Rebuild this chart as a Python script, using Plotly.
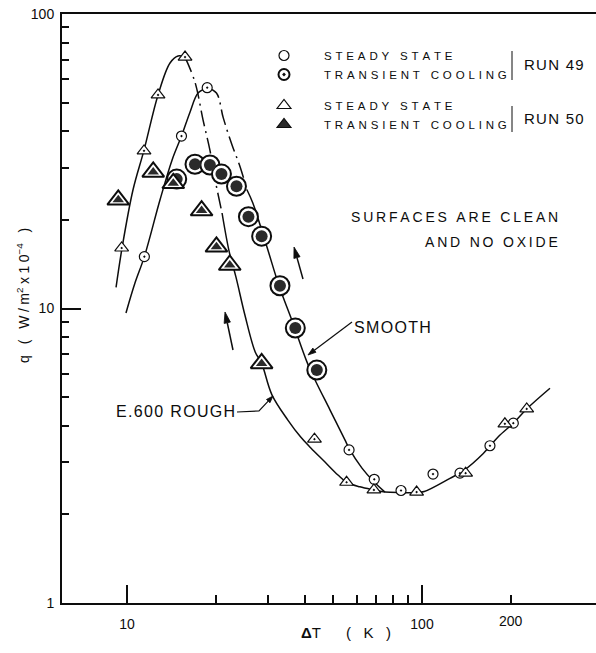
import math
import plotly.graph_objects as go

# ---- measured points: wall superheat dT (K) vs heat flux q (W/m^2 x 1e-4) ----
run49_steady_dt = [11.45, 15.3, 18.7, 56.6, 68.9, 84.9, 109, 134.5, 170, 204]
run49_steady_q = [15.0, 38.5, 56.2, 3.31, 2.63, 2.41, 2.74, 2.76, 3.42, 4.08]

run49_transient_dt = [14.74, 17.0, 19.1, 20.9, 23.5, 25.8, 28.6, 33.0, 37.2, 44.0]
run49_transient_q = [27.5, 30.9, 30.7, 28.6, 26.0, 20.5, 17.6, 11.95, 8.58, 6.18]

run50_steady_dt = [9.59, 11.42, 12.74, 15.73, 43.2, 55.5, 68.7, 95.9, 140.6, 191, 226.5]
run50_steady_q = [16.05, 34.3, 53.1, 71.4, 3.6, 2.57, 2.42, 2.38, 2.76, 4.06, 4.56]

run50_transient_dt = [9.34, 12.27, 14.35, 17.9, 20.1, 22.3, 28.6]
run50_transient_q = [23.4, 29.1, 26.6, 21.5, 16.2, 14.05, 6.51]

# ---- hand-faired boiling curves ----
rough_rise_dt = [9.18, 9.62, 10.48, 11.42, 12.74, 13.99, 14.89, 15.73]
rough_rise_q = [11.8, 16.05, 25.3, 34.5, 53.1, 68.2, 72.0, 71.4]
rough_peak_dt = [15.73, 17.0, 18.1, 19.1, 19.9, 21.0]
rough_peak_q = [71.4, 58.7, 43.7, 34.5, 27.3, 21.1]
rough_fall_dt = [21.0, 22.2, 23.4, 25.1, 27.2, 28.6, 31.0, 35.1, 38.8, 42.0,
                 46.9, 51.9, 55.5, 61.6, 68.7, 74.9]
rough_fall_q = [21.1, 15.6, 12.8, 9.5, 7.12, 6.51, 5.09, 4.18, 3.66, 3.36,
                3.01, 2.72, 2.57, 2.48, 2.42, 2.38]

smooth_rise_dt = [9.92, 10.64, 11.45, 12.94, 14.21, 15.3, 16.35, 17.41, 18.7]
smooth_rise_q = [9.66, 12.2, 15.0, 23.4, 31.9, 38.5, 46.4, 53.9, 56.2]
smooth_peak_dt = [18.7, 20.1, 21.2, 22.7, 24.2, 25.5]
smooth_peak_q = [56.2, 53.9, 44.4, 35.9, 30.2, 25.3]
smooth_fall_dt = [25.5, 26.7, 29.8, 32.8, 36.2, 40.7, 43.4, 48.8, 54.8, 56.6,
                  62.6, 68.7, 74.9]
smooth_fall_q = [25.3, 22.8, 16.2, 11.9, 9.14, 6.60, 5.72, 4.52, 3.58, 3.35,
                 2.87, 2.58, 2.38]

film_dt = [74.9, 85, 96, 101.8, 124.4, 138, 161.4, 181.4, 204, 226.5, 271.6]
film_q = [2.38, 2.37, 2.37, 2.39, 2.65, 2.81, 3.22, 3.67, 4.08, 4.56, 5.36]

# ---- axes ----
x_limits = [6.02, 389]
y_limits = [1, 100]
x_major = [10, 100]
x_major_text = ["10", "100"]
x_minor = [20, 30, 40, 50, 60, 70, 80, 90, 200]
x_extra = [200]
x_extra_text = ["200"]
y_major = [1, 10, 100]
y_major_text = ["1", "10", "100"]
y_minor = [2, 3, 4, 5, 6, 7, 8, 9, 20, 30, 40, 50, 60, 70, 80, 90]

FONT = "Liberation Sans, Arial, Helvetica, sans-serif"
INK = "#0d0d0d"
DARK = "#2a2a2a"
DASHDOT = "16px,5px,2px,5px"

# page geometry of the plotting area
W, H = 596, 653
ML, MR, MT, MB = 62, 0, 14, 50
PW, PH = W - ML - MR, H - MT - MB


def xp(px):
    return (px - ML) / PW


def yp(py):
    return (MT + PH - py) / PH


def tracked(text, gap="\u2009"):
    out = []
    for ch in text:
        out.append("\u00a0" if ch == " " else ch)
    return gap.join(out)


fig = go.Figure()


def curve(dt, q, dash="solid"):
    fig.add_trace(go.Scatter(
        x=dt, y=q, mode="lines", showlegend=False, hoverinfo="skip",
        line=dict(color=INK, width=1.5, dash=dash, shape="spline", smoothing=1.0),
    ))


curve(rough_rise_dt, rough_rise_q)
curve(rough_peak_dt, rough_peak_q, DASHDOT)
curve(rough_fall_dt, rough_fall_q)
curve(smooth_rise_dt, smooth_rise_q)
curve(smooth_peak_dt, smooth_peak_q, DASHDOT)
curve(smooth_fall_dt, smooth_fall_q)
curve(film_dt, film_q)

# steady-state points
fig.add_trace(go.Scatter(
    x=run49_steady_dt, y=run49_steady_q, mode="markers", showlegend=False,
    marker=dict(symbol="circle-dot", size=10, color="white",
                line=dict(color=INK, width=1.2)),
))
fig.add_trace(go.Scatter(
    x=run50_steady_dt, y=run50_steady_q, mode="markers", showlegend=False,
    marker=dict(symbol="triangle-up-dot", size=12, color="white",
                line=dict(color=INK, width=1.2)),
))

# transient-cooling points: ringed outer mark with a dark core
fig.add_trace(go.Scatter(
    x=run49_transient_dt, y=run49_transient_q, mode="markers", showlegend=False,
    marker=dict(symbol="circle", size=19, color="white",
                line=dict(color=INK, width=2)),
))
fig.add_trace(go.Scatter(
    x=run49_transient_dt, y=run49_transient_q, mode="markers", showlegend=False,
    marker=dict(symbol="circle", size=12, color=DARK, line=dict(width=0)),
))
fig.add_trace(go.Scatter(
    x=run50_transient_dt, y=run50_transient_q, mode="markers", showlegend=False,
    marker=dict(symbol="triangle-up", size=19, color="white",
                line=dict(color=INK, width=2)),
))
fig.add_trace(go.Scatter(
    x=run50_transient_dt, y=run50_transient_q, mode="markers", showlegend=False,
    marker=dict(symbol="triangle-up", size=10, color=DARK, line=dict(width=0)),
))

# legend keys
legend_items = [
    ("r49", "STEADY STATE", dict(symbol="circle", size=10, color="white",
                                 line=dict(color=INK, width=1.2))),
    ("r49", "TRANSIENT COOLING", dict(symbol="circle-dot", size=11, color="white",
                                      line=dict(color=INK, width=2))),
    ("r50", "STEADY STATE", dict(symbol="triangle-up", size=12, color="white",
                                 line=dict(color=INK, width=1.2))),
    ("r50", "TRANSIENT COOLING", dict(symbol="triangle-up", size=12, color=DARK,
                                      line=dict(color=INK, width=1.2))),
]
for group, label, mk in legend_items:
    fig.add_trace(go.Scatter(
        x=[None], y=[None], mode="markers", name=tracked(label, "\u2004"),
        legendgroup=group, marker=mk, showlegend=True,
    ))

axis_font = dict(family=FONT, size=14, color=INK)
log_x = [math.log10(v) for v in x_limits]
log_y = [math.log10(v) for v in y_limits]

fig.update_layout(
    width=W, height=H,
    margin=dict(l=ML, r=MR, t=MT, b=MB),
    paper_bgcolor="white", plot_bgcolor="white",
    font=dict(family=FONT, color=INK),
    xaxis=dict(
        type="log", range=log_x, showgrid=False, zeroline=False,
        showline=True, linecolor=INK, linewidth=2, mirror=True,
        tickmode="array", tickvals=x_major, ticktext=x_major_text,
        ticks="inside", ticklen=18, tickwidth=1.5, tickcolor=INK,
        tickfont=axis_font, ticklabelstandoff=7,
        minor=dict(tickmode="array", tickvals=x_minor, ticks="inside",
                   ticklen=8, tickwidth=1.5, tickcolor=INK, showgrid=False),
    ),
    yaxis=dict(
        type="log", range=log_y, showgrid=False, zeroline=False,
        showline=True, linecolor=INK, linewidth=2, mirror=False,
        tickmode="array", tickvals=y_major, ticktext=y_major_text,
        ticks="inside", ticklen=19, tickwidth=1.5, tickcolor=INK,
        tickfont=axis_font, ticklabelstandoff=3,
        minor=dict(tickmode="array", tickvals=y_minor, ticks="inside",
                   ticklen=7, tickwidth=1.5, tickcolor=INK, showgrid=False),
    ),
    legend=dict(
        x=xp(244), y=yp(41), xanchor="left", yanchor="top", itemwidth=70,
        bgcolor="rgba(0,0,0,0)", borderwidth=0, tracegroupgap=12,
        font=dict(family=FONT, size=11.5, color=INK), traceorder="grouped",
    ),
    showlegend=True,
)

ann = []
shapes = []


def note(text, x, y, size, xanchor="left", angle=0):
    ann.append(dict(text=text, xref="paper", yref="paper", x=xp(x), y=yp(y),
                    xanchor=xanchor, yanchor="middle", showarrow=False,
                    textangle=angle, font=dict(family=FONT, size=size, color=INK)))


def arrow(points, head_len=9.0, head_half=3.0, width=1.3):
    """Polyline in page pixels ending in a filled arrow head at its last point."""
    (x1, y1), (x2, y2) = points[-2], points[-1]
    d = math.hypot(x2 - x1, y2 - y1)
    ux, uy = (x2 - x1) / d, (y2 - y1) / d
    bx, by = x2 - ux * head_len, y2 - uy * head_len
    line_pts = points[:-1] + [(bx, by)]
    path = "M" + " L".join(f"{xp(a):.5f},{yp(b):.5f}" for a, b in line_pts)
    shapes.append(dict(type="path", xref="paper", yref="paper", path=path,
                       line=dict(color=INK, width=width)))
    head = [(x2, y2), (bx - uy * head_half, by + ux * head_half),
            (bx + uy * head_half, by - ux * head_half)]
    hpath = "M" + " L".join(f"{xp(a):.5f},{yp(b):.5f}" for a, b in head) + " Z"
    shapes.append(dict(type="path", xref="paper", yref="paper", path=hpath,
                       fillcolor=INK, line=dict(color=INK, width=0.8)))


note(tracked("RUN 49", "\u200a"), 522, 64, 15)
note(tracked("RUN 50", "\u200a"), 522, 118, 15)
note(tracked("SURFACES ARE CLEAN"), 560, 217, 14, xanchor="right")
note(tracked("AND NO OXIDE"), 560, 242, 14, xanchor="right")
note(tracked("SMOOTH", "\u200a"), 352, 328, 16)
note(tracked("E.600 ROUGH", "\u200a"), 114, 412, 16)
note("<b>Δ</b>T" + "\u00a0" * 6 + "(" + "\u00a0" * 3 + "K" + "\u00a0" * 3 + ")",
     299, 632, 15)
note(tracked("q ( W/m", "\u2005") + "<sup>2</sup>\u2005x\u20051\u20050<sup>\u2212"
     + "4</sup>\u2005\u00a0\u2005)", 23, 296, 14, xanchor="center", angle=-90)

# label for the 200 K tick, placed on the x axis itself
for v, t in zip(x_extra, x_extra_text):
    ann.append(dict(text=t, xref="x", yref="paper", x=math.log10(v), y=0,
                    xanchor="center", yanchor="top", yshift=-8, showarrow=False,
                    font=axis_font))

# label leaders and direction arrows
arrow([(352, 322), (308, 355)], head_len=8, head_half=2.6, width=1.2)
arrow([(237, 412), (259, 411), (273, 396)], head_len=7, head_half=2.4, width=1.2)
arrow([(303, 279), (294, 247)], head_len=11, head_half=3.2, width=1.5)
arrow([(233, 350), (225, 312)], head_len=11, head_half=3.2, width=1.5)

# run brackets
shapes.append(dict(type="line", xref="paper", yref="paper", x0=xp(512), y0=yp(51),
                   x1=xp(512), y1=yp(80), line=dict(color=INK, width=1)))
shapes.append(dict(type="line", xref="paper", yref="paper", x0=xp(512), y0=yp(106),
                   x1=xp(512), y1=yp(132), line=dict(color=INK, width=1)))

fig.update_layout(annotations=ann, shapes=shapes)

# keep the page itself from scrolling so the figure fills the window exactly
page_css = ("document.documentElement.style.overflow='hidden';"
            "document.body.style.overflow='hidden';"
            "document.body.style.margin='0';")
fig.write_html("out.html", post_script=page_css)
